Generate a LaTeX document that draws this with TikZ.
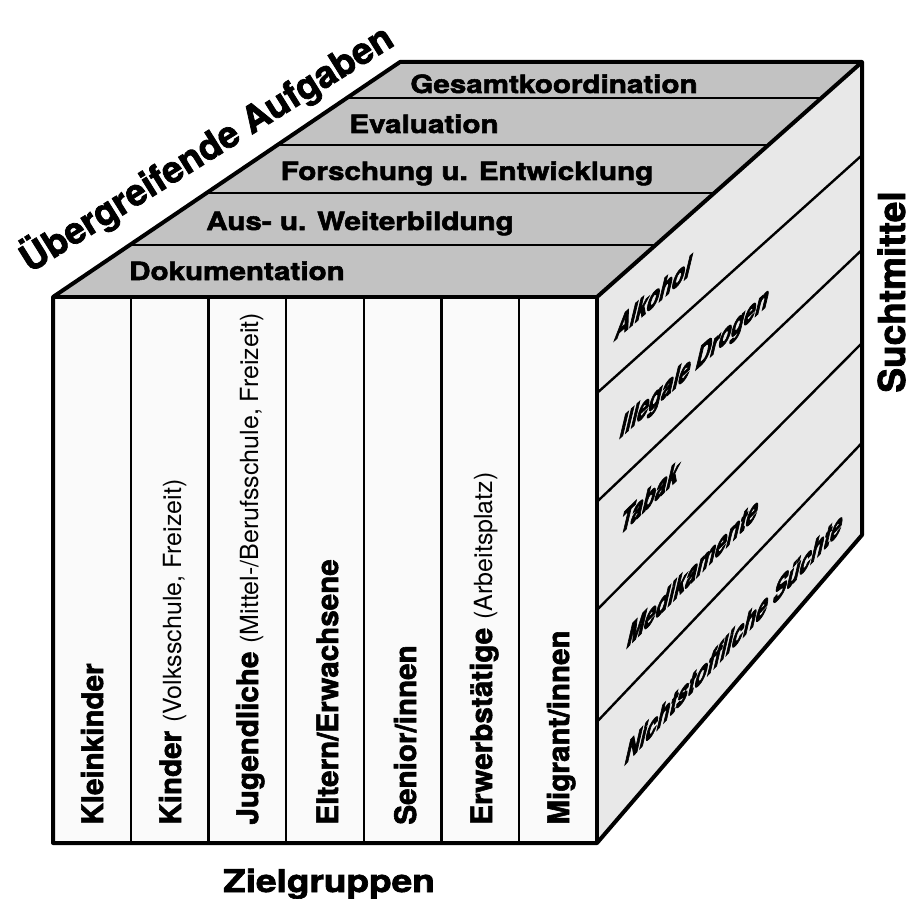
\documentclass[tikz,border=0pt]{standalone}
\usepackage{fontspec}
\setmainfont{TeX Gyre Heros}[BoldFeatures={FakeBold=2}]
\newfontfamily\dick{TeX Gyre Heros}[BoldFeatures={FakeBold=4}]
\usepackage{graphicx}
\usetikzlibrary{calc}
\definecolor{topgray}{gray}{0.76}
\definecolor{sidegray}{gray}{0.91}
\definecolor{frontgray}{gray}{0.98}
\newcommand{\squash}[1]{\scalebox{1}[0.85]{#1}}
\newcommand{\lang}[1]{\scalebox{1}[1.28]{#1}}
\newcommand{\klein}[1]{{\mdseries\fontsize{12.5}{13}\selectfont #1}}
\tikzset{rim/.style={line width=2pt, line join=round}}
\tikzset{seam/.style={line width=1.2pt}}
\tikzset{aufg/.style={anchor=base, inner sep=0pt, font=\bfseries\fontsize{14.8}{15}\selectfont}}
\tikzset{grp/.style={rotate=90, anchor=base west, inner sep=0pt, font=\bfseries\fontsize{14.8}{15}\selectfont}}
\tikzset{mittel/.style={xslant=0.3, anchor=base west, inner sep=0pt, font=\dick\bfseries\fontsize{10.3}{11}\selectfont}}
\tikzset{achse/.style={inner sep=0pt, font=\bfseries\fontsize{18.5}{19}\selectfont}}

\begin{document}
\begin{tikzpicture}[x=0.5pt, y=-0.5pt]
      \useasboundingbox (0,0) rectangle (911,899);
      % corners of the cube
      \coordinate (ftl) at (53,297);
      \coordinate (ftr) at (597,297);
      \coordinate (fbr) at (597,843);
      \coordinate (fbl) at (53,843);
      \coordinate (btl) at (400,62);
      \coordinate (btr) at (862,62);
      \coordinate (bbr) at (862,535);
      % faces
      \fill[topgray] (ftl) -- (btl) -- (btr) -- (ftr) -- cycle;
      \fill[sidegray] (ftr) -- (btr) -- (bbr) -- (fbr) -- cycle;
      \fill[frontgray] (ftl) rectangle (fbr);
      % stripes
      \foreach \t in {0.221,0.443,0.647,0.847}
        \draw[seam] ($(ftl)!\t!(btl)$) -- ($(ftr)!\t!(btr)$);
      \foreach \f/\b in {0.176/0.197,0.375/0.397,0.573/0.594,0.778/0.805}
        \draw[seam] ($(ftr)!\f!(fbr)$) -- ($(btr)!\b!(bbr)$);
      \foreach \i in {1,...,6}
        \draw[seam] ($(ftl)!\i/7!(ftr)$) -- ($(fbl)!\i/7!(fbr)$);
      % outline
      \draw[rim] (fbl) -- (ftl) -- (btl) -- (btr) -- (bbr) -- (fbr) -- cycle;
      \draw[rim] (ftl) -- (ftr) -- (fbr);
      \draw[rim] (ftr) -- (btr);
      % top face
      \node[aufg] (doku) at (237,280) {\squash{Dokumentation}};
      \node[aufg] (bild) at (360,230) {\squash{Aus- u. Weiterbildung}};
      \node[aufg] (forsch) at (467,180) {\squash{Forschung u. Entwicklung}};
      \node[aufg] (eval) at (424,133) {\squash{Evaluation}};
      \node[aufg] (koord) at (554,93) {\squash{Gesamtkoordination}};
      % front face
      \node[grp] (klein) at (103,825) {Kleinkinder};
      \node[grp] (kind) at (181,825) {Kinder \klein{(Volksschule, Freizeit)}};
      \node[grp] (jugend) at (258,825) {Jugendliche \klein{(Mittel-/Berufsschule, Freizeit)}};
      \node[grp] (eltern) at (338,825) {Eltern/Erwachsene};
      \node[grp] (senior) at (416,825) {Senior/innen};
      \node[grp] (erwerb) at (492,825) {Erwerbstätige \klein{(Arbeitsplatz)}};
      \node[grp] (migr) at (569,825) {Migrant/innen};
      % right face
      \node[yslant=0.87, mittel] (alk) at (613,342) {\lang{Alkohol}};
      \node[yslant=0.90, mittel] (drog) at (618,440) {\lang{Illegale Drogen}};
      \node[yslant=0.96, mittel] (tab) at (618,537) {\lang{Tabak}};
      \node[yslant=1.01, mittel] (med) at (625,650) {\lang{Medikamente}};
      \node[yslant=1.08, mittel] (nsucht) at (623,767) {\lang{Nichtstoffliche Süchte}};
      % axes
      \node[achse, anchor=base] (ziel) at (329,892) {\squash{Zielgruppen}};
      \node[achse, anchor=base, rotate=90] (sucht) at (905,292) {Suchtmittel};
      \node[achse, anchor=base, rotate=32] (ueber) at (213,159) {Übergreifende Aufgaben};
\end{tikzpicture}
\end{document}
